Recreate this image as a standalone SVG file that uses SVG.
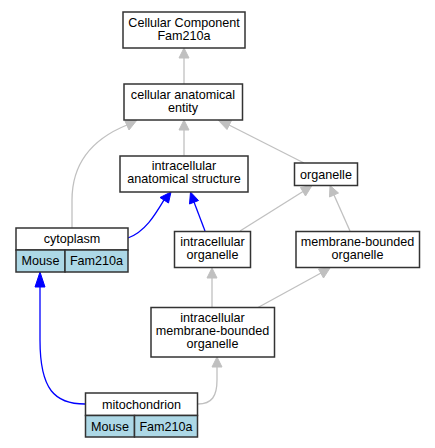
<svg xmlns="http://www.w3.org/2000/svg" width="435" height="448" viewBox="0 0 435 448">
<style>
.n{fill:#fff;stroke:#333;stroke-width:1.5}
.c{fill:#add8e6;stroke:#333;stroke-width:1.5}
text{font-family:"Liberation Sans",Arial,sans-serif;font-size:12.6px;fill:#000;text-anchor:middle}
.g{fill:none;stroke:#c0c0c0;stroke-width:1.3}
.b{fill:none;stroke:#0000ff;stroke-width:1.3}
.ga{fill:#c0c0c0;stroke:#c0c0c0}
.ba{fill:#0000ff;stroke:#0000ff}
</style>
<rect width="435" height="448" fill="#fff"/>
<g id="connectors">
<path class="g" d="M184,84 L184,58"/>
<polygon class="ga" points="184,48 179,58 189,58"/>
<path class="g" d="M184,155.5 L184,130"/>
<polygon class="ga" points="184,120 179,130 189,130"/>
<path class="g" d="M304,163 L229,125"/>
<polygon class="ga" points="218,120 227,129.5 231.5,120.5"/>
<path class="g" d="M72,228 L72,200 C72,160 95,138 127,125"/>
<polygon class="ga" points="137,120 125,121 129,130"/>
<path class="b" d="M128,238 C145,232 155,215 164,200"/>
<polygon class="ba" points="171,192 160,197.5 168.5,203"/>
<path class="b" d="M205,231 L194,202"/>
<polygon class="ba" points="190.5,192 189.5,204 198.5,200.5"/>
<path class="g" d="M240,231 L303,191.5"/>
<polygon class="ga" points="312,185.5 300.5,187.5 305.5,196"/>
<path class="g" d="M350,231 L334,195"/>
<polygon class="ga" points="330,185.5 329.5,197 338.5,193"/>
<path class="g" d="M212,307.5 L212,278"/>
<polygon class="ga" points="212,268 207,278 217,278"/>
<path class="g" d="M258,307.5 L321,273"/>
<polygon class="ga" points="330,268 318.5,269 323.5,278"/>
<path class="b" d="M85,404 C55,404 40,390 40,340 L40,287"/>
<polygon class="ba" points="40,272 35,287 45,287"/>
<path class="g" d="M198,404 C212,404 217,396 217,380 L217,367"/>
<polygon class="ga" points="217,357 212,367 222,367"/>
</g>
<g id="cc">
<rect class="n" x="123" y="12" width="122" height="36"/>
<text x="184" y="26.5">Cellular Component</text>
<text x="184" y="39.5">Fam210a</text>
</g>
<g id="cae">
<rect class="n" x="124" y="84" width="118.5" height="36"/>
<text x="183" y="98.5">cellular anatomical</text>
<text x="183" y="111.5">entity</text>
</g>
<g id="ias">
<rect class="n" x="120" y="156" width="128" height="36"/>
<text x="184" y="170">intracellular</text>
<text x="184" y="183">anatomical structure</text>
</g>
<g id="organelle">
<rect class="n" x="294.5" y="163" width="63" height="22.5"/>
<text x="326" y="178.5">organelle</text>
</g>
<g id="cytoplasm">
<rect class="n" x="16" y="228" width="112" height="22"/>
<text x="72" y="243">cytoplasm</text>
<rect class="c" x="16" y="250" width="49" height="22"/>
<text x="40.5" y="265">Mouse</text>
<rect class="c" x="65" y="250" width="63" height="22"/>
<text x="96.5" y="265">Fam210a</text>
</g>
<g id="io">
<rect class="n" x="174.5" y="231.5" width="76" height="36"/>
<text x="212.5" y="245.5">intracellular</text>
<text x="212.5" y="258.5">organelle</text>
</g>
<g id="mbo">
<rect class="n" x="296" y="231.5" width="123.5" height="36"/>
<text x="357.5" y="245.5">membrane-bounded</text>
<text x="357.5" y="258.5">organelle</text>
</g>
<g id="imbo">
<rect class="n" x="151" y="307.5" width="123.5" height="49.5"/>
<text x="212.5" y="321.5">intracellular</text>
<text x="212.5" y="334.5">membrane-bounded</text>
<text x="212.5" y="347.5">organelle</text>
</g>
<g id="mito">
<rect class="n" x="85.5" y="393" width="112" height="22.5"/>
<text x="141.5" y="408.5">mitochondrion</text>
<rect class="c" x="85.5" y="415.5" width="49" height="21.5"/>
<text x="110" y="430.5">Mouse</text>
<rect class="c" x="134.5" y="415.5" width="63" height="21.5"/>
<text x="166" y="430.5">Fam210a</text>
</g>
</svg>
